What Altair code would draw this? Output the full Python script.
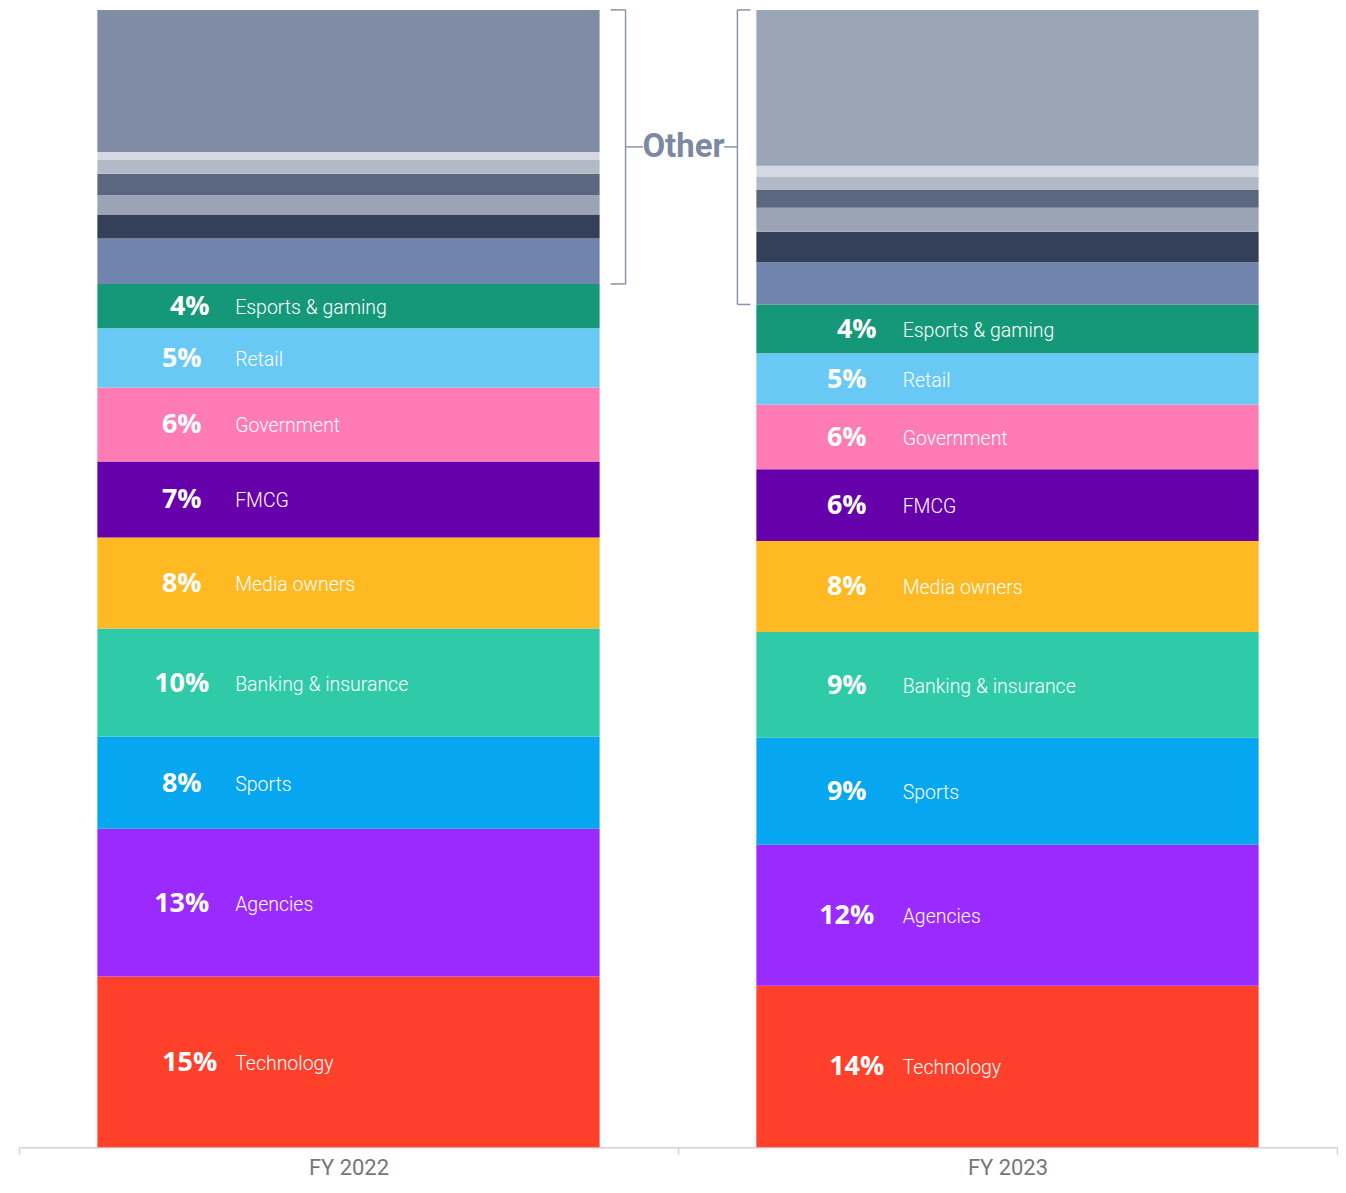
import altair as alt
import pandas as pd

years = ["FY 2022", "FY 2023"]

# segments from bottom to top
segments = ["Technology", "Agencies", "Sports", "Banking & insurance", "Media owners",
            "FMCG", "Government", "Retail", "Esports & gaming",
            "Other 1", "Other 2", "Other 3", "Other 4", "Other 5", "Other 6", "Other 7"]
named_count = 9

fy2022_values = [15.0, 13.0, 8.1, 9.5, 8.0, 6.7, 6.5, 5.2, 3.9, 4.0, 2.1, 1.7, 1.9, 1.2, 0.7, 12.5]
fy2023_values = [14.2, 12.4, 9.4, 9.3, 8.0, 6.3, 5.7, 4.5, 4.3, 3.7, 2.7, 2.1, 1.6, 1.1, 1.0, 13.7]

fy2022_labels = ["15%", "13%", "8%", "10%", "8%", "7%", "6%", "5%", "4%"]
fy2023_labels = ["14%", "12%", "9%", "9%", "8%", "6%", "6%", "5%", "4%"]

named_colors = ["#FF412C", "#9B2AFF", "#07A6F0", "#2FCBA8", "#FFB922",
                "#6600AA", "#FF7BB4", "#69C9F5", "#159878"]
other_colors_2022 = ["#7184AE", "#344059", "#9AA4B5", "#5B6780", "#B3BAC7", "#D3D8E3", "#808CA4"]
other_colors_2023 = ["#7184AE", "#344059", "#9AA4B5", "#5B6780", "#B3BAC7", "#D3D8E3", "#9AA5B6"]

# percentage labels sitting slightly further right in the original
shifted_labels = ["Technology", "Esports & gaming"]

rows = []
for year, vals, labs, others in [
    (years[0], fy2022_values, fy2022_labels, other_colors_2022),
    (years[1], fy2023_values, fy2023_labels, other_colors_2023),
]:
    colors = named_colors + others
    for i, (seg, v) in enumerate(zip(segments, vals)):
        rows.append({
            "year": year,
            "segment": seg,
            "value": v,
            "order": i,
            "color": colors[i],
            "pct": labs[i] if i < named_count else "",
            "name": seg if i < named_count else "",
            "shift": seg in shifted_labels,
        })
df = pd.DataFrame(rows)

brackets = pd.DataFrame([
    {"year": years[0], "lo": sum(fy2022_values[:named_count]), "hi": sum(fy2022_values)},
    {"year": years[1], "lo": sum(fy2023_values[:named_count]), "hi": sum(fy2023_values)},
])
brackets["mid"] = (brackets["lo"] + brackets["hi"]) / 2

W, H = 1320, 1139
yscale = alt.Scale(domain=[0, 100], nice=False, zero=True)
xscale = alt.Scale(paddingInner=0, paddingOuter=0)

base = alt.Chart(df).transform_stack(
    stack="value", groupby=["year"], sort=[alt.SortField("order")], as_=["y0", "y1"]
).transform_calculate(mid="(datum.y0 + datum.y1) / 2")

bars = base.mark_bar(cornerRadius=0, width=alt.RelativeBandSize(503 / 660)).encode(
    x=alt.X("year:N", scale=xscale, sort=years,
            axis=alt.Axis(title=None, labelAngle=0, tickBand="extent",
                          domainColor="#d3d3d3", tickColor="#d3d3d3",
                          domainWidth=1.5, tickWidth=1.5, tickSize=7,
                          labelFont="Roboto", labelFontSize=22,
                          labelColor="#777777", labelPadding=3)),
    y=alt.Y("y0:Q", scale=yscale, axis=None),
    y2="y1:Q",
    color=alt.Color("color:N", scale=None),
)

layers = [bars]
for year, pdx, sdx, ndx in [(years[0], -167, -159, -113.5), (years[1], -161, -151, -105)]:
    yb = base.transform_filter(alt.datum.year == year)
    for cond, dx in [("datum.pct != '' && !datum.shift", pdx), ("datum.pct != '' && datum.shift", sdx)]:
        layers.append(yb.transform_filter(cond).mark_text(
            font="Open Sans", fontWeight="bold", fontSize=27, color="white",
            align="center", baseline="middle", dx=dx, dy=1,
        ).encode(x=alt.X("year:N", sort=years), y=alt.Y("mid:Q"), text="pct:N"))
    layers.append(yb.transform_filter("datum.name != ''").mark_text(
        font="Roboto", fontWeight=300, fontSize=19.5, color="white",
        align="left", baseline="middle", dx=ndx, dy=2,
    ).encode(x=alt.X("year:N", sort=years), y=alt.Y("mid:Q"), text="name:N"))

bcolor = "#8A94AB"
bw = 1.5
b22 = alt.Chart(brackets).transform_filter(alt.datum.year == years[0])
b23 = alt.Chart(brackets).transform_filter(alt.datum.year == years[1])

layers += [
    b22.mark_rule(color=bcolor, strokeWidth=bw).encode(x=alt.value(607.5), y="lo:Q", y2="hi:Q"),
    b22.mark_rule(color=bcolor, strokeWidth=bw).encode(x=alt.value(592.5), x2=alt.value(607.5), y="lo:Q"),
    b22.mark_rule(color=bcolor, strokeWidth=bw).encode(x=alt.value(592.5), x2=alt.value(607.5), y="hi:Q"),
    b22.mark_rule(color=bcolor, strokeWidth=bw).encode(x=alt.value(607.5), x2=alt.value(625), y="mid:Q"),
    b22.mark_rule(color=bcolor, strokeWidth=bw).encode(x=alt.value(706), x2=alt.value(719.5), y="mid:Q"),
    b23.mark_rule(color=bcolor, strokeWidth=bw).encode(x=alt.value(719.5), y="lo:Q", y2="hi:Q"),
    b23.mark_rule(color=bcolor, strokeWidth=bw).encode(x=alt.value(719.5), x2=alt.value(732.5), y="lo:Q"),
    b23.mark_rule(color=bcolor, strokeWidth=bw).encode(x=alt.value(719.5), x2=alt.value(732.5), y="hi:Q"),
    b22.mark_text(text="Other", font="Roboto", fontWeight="bold", fontSize=33,
                  color="#7D88A2", align="center", baseline="middle").encode(
        x=alt.value(665.5), y="mid:Q"),
]

chart = alt.layer(*layers).properties(
    width=W, height=H,
    padding={"left": 10, "right": 0, "top": 0, "bottom": 0},
).configure_view(stroke=None)

chart.save("out.html", embed_options={"renderer": "svg", "actions": False})
